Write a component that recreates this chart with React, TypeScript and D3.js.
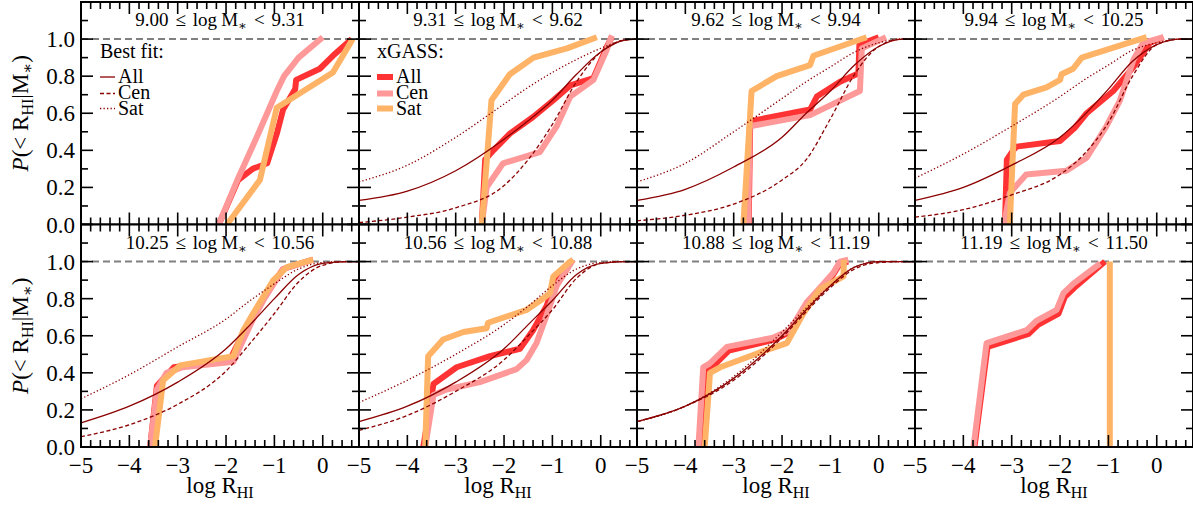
import React from "react";
import * as d3 from "d3";

type Pt = [number, number];

// stellar-mass bins (panel titles)
const massLo = ["9.00", "9.31", "9.62", "9.94", "10.25", "10.56", "10.88", "11.19"];
const massHi = ["9.31", "9.62", "9.94", "10.25", "10.56", "10.88", "11.19", "11.50"];

const xTickValues = [-5, -4, -3, -2, -1, 0];
const yTickValues = [0, 0.2, 0.4, 0.6, 0.8, 1.0];

// xGASS cumulative distributions, one list per panel
const obsAll: Pt[][] = [
  [[-2.15, 0], [-1.75, 0.24], [-1.45, 0.3], [-1.15, 0.33], [-0.95, 0.49], [-0.82, 0.62], [-0.57, 0.73], [-0.55, 0.78], [-0.06, 0.84], [0.21, 0.91], [0.6, 1.0]],
  [[-2.46, 0], [-2.39, 0.35], [-2.22, 0.4], [-1.88, 0.49], [-1.4, 0.58], [-0.98, 0.67], [-0.63, 0.75], [-0.15, 0.79], [0.13, 0.96], [0.23, 1.01]],
  [[-2.69, 0], [-2.66, 0.53], [-2.6, 0.56], [-1.42, 0.62], [-1.28, 0.69], [-0.8, 0.77], [-0.46, 0.81], [-0.42, 0.82], [-0.4, 0.97], [0.0, 1.01]],
  [[-3.14, 0], [-3.1, 0.35], [-2.97, 0.4], [-2.9, 0.42], [-2.0, 0.45], [-1.7, 0.52], [-1.45, 0.6], [-0.9, 0.72], [-0.48, 0.85], [-0.14, 0.98], [0.14, 1.01]],
  [[-3.57, 0], [-3.43, 0.33], [-3.08, 0.43], [-1.92, 0.47], [-1.71, 0.58], [-1.44, 0.7], [-1.23, 0.8], [-0.82, 0.96], [-0.2, 1.01]],
  [[-3.67, 0], [-3.46, 0.34], [-2.98, 0.43], [-2.29, 0.49], [-1.67, 0.53], [-1.4, 0.63], [-1.12, 0.76], [-0.98, 0.87], [-0.63, 1.0]],
  [[-3.7, 0], [-3.6, 0.41], [-3.45, 0.43], [-3.1, 0.52], [-2.15, 0.58], [-1.84, 0.62], [-1.49, 0.77], [-1.28, 0.83], [-0.94, 0.93], [-0.8, 0.99], [-0.63, 1.0]],
  [[-3.77, 0], [-3.5, 0.54], [-2.65, 0.61], [-2.45, 0.66], [-2.03, 0.72], [-1.9, 0.81], [-1.7, 0.86], [-1.07, 1.0]],
];

const obsCen: Pt[][] = [
  [[-2.15, 0], [-1.75, 0.25], [-1.35, 0.48], [-0.95, 0.72], [-0.8, 0.8], [-0.5, 0.9], [0.0, 1.01]],
  [[-2.46, 0], [-2.36, 0.2], [-2.02, 0.33], [-1.26, 0.39], [-0.91, 0.53], [-0.63, 0.69], [-0.15, 0.78], [0.12, 0.94], [0.23, 1.02]],
  [[-2.7, 0], [-2.67, 0.53], [-1.42, 0.59], [-0.39, 0.72], [-0.35, 0.95], [0.15, 1.01]],
  [[-3.16, 0], [-3.04, 0.17], [-2.7, 0.27], [-1.87, 0.29], [-1.45, 0.36], [-1.04, 0.53], [-0.76, 0.67], [-0.48, 0.89], [-0.28, 0.98], [0.14, 1.01]],
  [[-3.57, 0], [-3.43, 0.31], [-3.23, 0.4], [-2.9, 0.43], [-1.85, 0.46], [-1.71, 0.54], [-1.44, 0.69], [-1.23, 0.79], [-0.82, 0.96], [-0.2, 1.01]],
  [[-3.63, 0], [-3.46, 0.28], [-3.19, 0.31], [-2.5, 0.35], [-1.74, 0.42], [-1.53, 0.47], [-1.33, 0.56], [-1.12, 0.71], [-0.91, 0.87], [-0.57, 1.01]],
  [[-3.73, 0], [-3.63, 0.43], [-3.5, 0.45], [-3.14, 0.54], [-2.18, 0.59], [-1.84, 0.63], [-1.49, 0.78], [-1.28, 0.84], [-0.94, 0.94], [-0.8, 1.0], [-0.63, 1.01]],
  [[-3.79, 0], [-3.52, 0.56], [-2.69, 0.63], [-2.49, 0.68], [-2.07, 0.74], [-1.93, 0.83], [-1.73, 0.88], [-1.17, 0.99]],
];

const obsSat: Pt[][] = [
  [[-1.98, 0], [-1.3, 0.24], [-0.95, 0.63], [0.21, 0.82], [0.62, 1.0]],
  [[-2.46, 0], [-2.26, 0.67], [-1.88, 0.81], [-1.39, 0.9], [-0.7, 0.95], [-0.08, 1.01]],
  [[-2.8, 0], [-2.63, 0.72], [-2.11, 0.8], [-1.42, 0.86], [-1.35, 0.91], [-0.25, 1.01]],
  [[-3.04, 0], [-2.93, 0.65], [-2.76, 0.7], [-2.28, 0.74], [-2.0, 0.78], [-1.97, 0.81], [-1.73, 0.84], [-1.55, 0.9], [-0.21, 1.01]],
  [[-3.47, 0], [-3.3, 0.36], [-2.95, 0.44], [-1.85, 0.49], [-1.64, 0.63], [-1.44, 0.72], [-1.02, 0.9], [-0.74, 0.97], [-0.2, 1.01]],
  [[-3.63, 0], [-3.57, 0.49], [-3.26, 0.58], [-2.84, 0.62], [-2.36, 0.64], [-2.33, 0.67], [-1.53, 0.74], [-1.25, 0.79], [-1.05, 0.83], [-0.98, 0.92], [-0.63, 1.0], [-0.57, 1.01]],
  [[-3.6, 0], [-3.49, 0.4], [-3.28, 0.43], [-2.46, 0.51], [-1.9, 0.56], [-1.56, 0.72], [-1.22, 0.85], [-0.73, 0.92], [-0.72, 1.01]],
  [[-0.97, 0], [-0.97, 1.0]],
];

// best-fit model curves, sampled on fitGrid (null = not drawn)
const fitGrid = [-5, -4, -3, -2, -1.5, -1, -0.5, 0, 0.5, 0.75];
const fitAll: (number[] | null)[] = [
  null,
  [0.13, 0.18, 0.29, 0.46, 0.56, 0.67, 0.81, 0.93, 0.995, 1.0],
  [0.13, 0.19, 0.31, 0.47, 0.6, 0.72, 0.86, 0.96, 1.0, 1.0],
  [0.13, 0.2, 0.32, 0.47, 0.59, 0.73, 0.88, 0.97, 1.0, 1.0],
  [0.13, 0.22, 0.35, 0.53, 0.66, 0.8, 0.93, 0.99, 1.0, 1.0],
  [0.137, 0.22, 0.35, 0.53, 0.66, 0.79, 0.93, 0.99, 1.0, 1.0],
  [0.137, 0.22, 0.37, 0.6, 0.74, 0.87, 0.97, 1.0, 1.0, 1.0],
  null,
];
const fitCen: (number[] | null)[] = [
  null,
  [0.01, 0.04, 0.09, 0.21, 0.35, 0.54, 0.77, 0.93, 0.995, 1.0],
  [0.02, 0.05, 0.11, 0.24, 0.35, 0.57, 0.81, 0.96, 1.0, 1.0],
  [0.04, 0.08, 0.16, 0.27, 0.38, 0.55, 0.8, 0.97, 1.0, 1.0],
  [0.056, 0.12, 0.23, 0.41, 0.56, 0.72, 0.89, 0.98, 1.0, 1.0],
  [0.09, 0.17, 0.3, 0.47, 0.6, 0.74, 0.91, 0.99, 1.0, 1.0],
  [0.137, 0.22, 0.36, 0.59, 0.73, 0.86, 0.96, 0.995, 1.0, 1.0],
  null,
];
const fitSat: (number[] | null)[] = [
  null,
  [0.23, 0.32, 0.47, 0.65, 0.74, 0.82, 0.89, 0.95, 0.995, 1.0],
  [0.23, 0.33, 0.5, 0.68, 0.77, 0.85, 0.93, 0.98, 1.0, 1.0],
  [0.25, 0.38, 0.53, 0.69, 0.78, 0.86, 0.94, 0.98, 1.0, 1.0],
  [0.26, 0.39, 0.54, 0.69, 0.79, 0.88, 0.96, 0.995, 1.0, 1.0],
  [0.24, 0.36, 0.5, 0.66, 0.76, 0.87, 0.96, 0.995, 1.0, 1.0],
  [0.137, 0.22, 0.38, 0.62, 0.75, 0.87, 0.97, 1.0, 1.0, 1.0],
  null,
];

const FONT = "'Liberation Serif', 'DejaVu Serif', serif";
const RED = "#ff3333";
const PINK = "#ff9999";
const ORANGE = "#ffb366";
const FIT = "#8b0000";

const PW = 278;
const PH = 222.5;
const LEFT = 81;
const TOPS = [2, 224.5];

export default function App() {
  const x = d3.scaleLinear().domain([-5, 0.75]).range([0, PW]);
  const y = d3.scaleLinear().domain([0, 1.2]).range([PH, 0]);

  const obsLine = d3.line<Pt>().x((d) => x(d[0])).y((d) => y(d[1]));
  const fitLine = d3
    .line<number>()
    .x((_, i) => x(fitGrid[i]))
    .y((d) => y(d))
    .curve(d3.curveMonotoneX);

  const xMinor = d3.range(0, 29).map((k) => -5 + k * 0.2).filter((v) => Math.abs(v - Math.round(v)) > 1e-6);
  const yMajor = d3.range(0, 7).map((k) => k * 0.2);
  const yMinor = d3.range(0, 6).map((k) => 0.1 + k * 0.2);

  const majorLen = 12;
  const minorLen = 7;

  const panel = (i: number) => {
    const col = i % 4;
    const row = Math.floor(i / 4);
    const px = LEFT + col * PW;
    const py = TOPS[row];
    return (
      <g key={i} transform={`translate(${px},${py})`}>
        <defs>
          <clipPath id={`clip${i}`}>
            <rect x={0} y={0} width={PW} height={PH} />
          </clipPath>
        </defs>
        <rect x={0} y={0} width={PW} height={PH} fill="white" />
        <g clipPath={`url(#clip${i})`}>
          <line x1={0} x2={PW} y1={y(1)} y2={y(1)} stroke="#808080" strokeWidth={2} strokeDasharray="7 4" />
          <path d={obsLine(obsAll[i]) || ""} fill="none" stroke={RED} strokeWidth={6} strokeLinejoin="round" />
          <path d={obsLine(obsCen[i]) || ""} fill="none" stroke={PINK} strokeWidth={6} strokeLinejoin="round" />
          <path d={obsLine(obsSat[i]) || ""} fill="none" stroke={ORANGE} strokeWidth={6} strokeLinejoin="round" />
          {fitCen[i] && (
            <path d={fitLine(fitCen[i] as number[]) || ""} fill="none" stroke={FIT} strokeWidth={1.3} strokeDasharray="4 2.5" />
          )}
          {fitSat[i] && (
            <path d={fitLine(fitSat[i] as number[]) || ""} fill="none" stroke={FIT} strokeWidth={1.3} strokeDasharray="1.3 2.2" />
          )}
          {fitAll[i] && <path d={fitLine(fitAll[i] as number[]) || ""} fill="none" stroke={FIT} strokeWidth={1.3} />}
        </g>

        {/* ticks on all four sides, pointing inward */}
        <g stroke="black" strokeWidth={1.6}>
          {xTickValues.map((v) => (
            <g key={`xM${v}`}>
              <line x1={x(v)} x2={x(v)} y1={PH} y2={PH - majorLen} />
              <line x1={x(v)} x2={x(v)} y1={0} y2={majorLen} />
            </g>
          ))}
          {xMinor.map((v) => (
            <g key={`xm${v.toFixed(1)}`}>
              <line x1={x(v)} x2={x(v)} y1={PH} y2={PH - minorLen} />
              <line x1={x(v)} x2={x(v)} y1={0} y2={minorLen} />
            </g>
          ))}
          {yMajor.map((v) => (
            <g key={`yM${v.toFixed(1)}`}>
              <line x1={0} x2={majorLen} y1={y(v)} y2={y(v)} />
              <line x1={PW} x2={PW - majorLen} y1={y(v)} y2={y(v)} />
            </g>
          ))}
          {yMinor.map((v) => (
            <g key={`ym${v.toFixed(1)}`}>
              <line x1={0} x2={minorLen} y1={y(v)} y2={y(v)} />
              <line x1={PW} x2={PW - minorLen} y1={y(v)} y2={y(v)} />
            </g>
          ))}
        </g>
        <rect x={0} y={0} width={PW} height={PH} fill="none" stroke="black" strokeWidth={2} />

        <text x={PW / 2} y={24} textAnchor="middle" fontFamily={FONT} fontSize={19}>
          {massLo[i]}
          <tspan dx={7}>≤</tspan>
          <tspan dx={7}>log</tspan>
          <tspan dx={4}>M</tspan>
          <tspan dy={4} fontSize={13}>∗</tspan>
          <tspan dy={-4} dx={7}>&lt;</tspan>
          <tspan dx={7}>{massHi[i]}</tspan>
        </text>

        {col === 0 &&
          yTickValues.map((v) => (
            <text key={`yl${v}`} x={-6} y={y(v)} dy="0.35em" textAnchor="end" fontFamily={FONT} fontSize={23}>
              {v.toFixed(1)}
            </text>
          ))}
        {row === 1 &&
          xTickValues.map((v) => (
            <text key={`xl${v}`} x={x(v)} y={PH + 26} textAnchor="middle" fontFamily={FONT} fontSize={23}>
              {v < 0 ? `\u2212${-v}` : `${v}`}
            </text>
          ))}
        {row === 1 && (
          <text x={PW / 2} y={PH + 46} textAnchor="middle" fontFamily={FONT} fontSize={23}>
            log R<tspan dy={5} fontSize={16}>HI</tspan>
          </text>
        )}
        {col === 0 && (
          <text transform={`translate(${-53},${PH / 2}) rotate(-90)`} textAnchor="middle" fontFamily={FONT} fontSize={23}>
            <tspan fontStyle="italic">P</tspan>
            {"(< R"}
            <tspan dy={5} fontSize={16}>HI</tspan>
            <tspan dy={-5}>|M</tspan>
            <tspan dy={5} fontSize={16}>∗</tspan>
            <tspan dy={-5}>)</tspan>
          </text>
        )}

        {i === 0 && (
          <g fontFamily={FONT} fontSize={20}>
            <text x={19} y={56}>Best fit:</text>
            <line x1={19} x2={34} y1={75} y2={75} stroke={FIT} strokeWidth={1.3} />
            <text x={37} y={81}>All</text>
            <line x1={19} x2={34} y1={91.5} y2={91.5} stroke={FIT} strokeWidth={1.3} strokeDasharray="4 2.5" />
            <text x={37} y={97}>Cen</text>
            <line x1={19} x2={34} y1={106.5} y2={106.5} stroke={FIT} strokeWidth={1.3} strokeDasharray="1.3 2.2" />
            <text x={37} y={112.5}>Sat</text>
          </g>
        )}
        {i === 1 && (
          <g fontFamily={FONT} fontSize={20}>
            <text x={18} y={56}>xGASS:</text>
            <line x1={18} x2={34} y1={75} y2={75} stroke={RED} strokeWidth={6} />
            <text x={37} y={81}>All</text>
            <line x1={18} x2={34} y1={91.5} y2={91.5} stroke={PINK} strokeWidth={6} />
            <text x={37} y={97}>Cen</text>
            <line x1={18} x2={34} y1={106.5} y2={106.5} stroke={ORANGE} strokeWidth={6} />
            <text x={37} y={112.5}>Sat</text>
          </g>
        )}
      </g>
    );
  };

  return (
    <svg width={1193} height={507} style={{ position: "absolute", left: 0, top: 0, background: "white" }}>
      {d3.range(8).map((i) => panel(i))}
    </svg>
  );
}
